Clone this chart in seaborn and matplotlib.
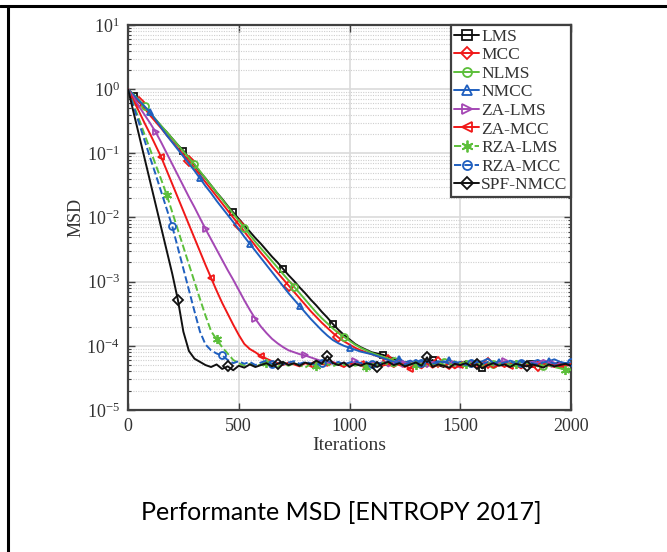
import matplotlib
matplotlib.use("Agg")
import matplotlib.pyplot as plt
from matplotlib.lines import Line2D
from matplotlib.ticker import LogLocator, LogFormatterMathtext, NullFormatter
import numpy as np
import pandas as pd
import seaborn as sns

# Iteration grid (every 25 iterations) and log10(MSD).
iterations = list(range(0, 2001, 25))

lms = [0, -0.10, -0.20, -0.29, -0.39, -0.48, -0.58, -0.67, -0.77, -0.87,
       -0.96, -1.07, -1.18, -1.29, -1.39, -1.50, -1.61, -1.71, -1.82, -1.92,
       -2.02, -2.12, -2.22, -2.32, -2.41, -2.51, -2.61, -2.70, -2.80, -2.90,
       -2.99, -3.09, -3.18, -3.28, -3.37, -3.47, -3.56, -3.66, -3.75, -3.83,
       -3.90, -3.97, -4.02, -4.06, -4.10, -4.12, -4.14, -4.17, -4.20, -4.24,
       -4.26, -4.29, -4.25, -4.31, -4.27, -4.22, -4.30, -4.33, -4.26, -4.28,
       -4.31, -4.24, -4.29, -4.27, -4.35, -4.26, -4.30, -4.25, -4.28, -4.32,
       -4.27, -4.24, -4.30, -4.28, -4.26, -4.33, -4.27, -4.29, -4.25, -4.30, -4.28]

mcc = [0, -0.10, -0.20, -0.30, -0.41, -0.51, -0.61, -0.72, -0.82, -0.92,
       -1.02, -1.12, -1.23, -1.34, -1.45, -1.56, -1.67, -1.78, -1.89, -2.00,
       -2.11, -2.22, -2.33, -2.44, -2.55, -2.65, -2.76, -2.86, -2.96, -3.06,
       -3.16, -3.26, -3.36, -3.46, -3.55, -3.64, -3.72, -3.80, -3.87, -3.93,
       -3.98, -4.03, -4.07, -4.10, -4.13, -4.16, -4.19, -4.22,
       -4.27, -4.30, -4.33, -4.26, -4.29, -4.35, -4.28, -4.31, -4.25, -4.30,
       -4.36, -4.28, -4.32, -4.27, -4.30, -4.34, -4.29, -4.26, -4.31, -4.28,
       -4.33, -4.27, -4.30, -4.35, -4.29, -4.26, -4.31, -4.28, -4.30, -4.33,
       -4.29, -4.31, -4.30]

nlms = [0, -0.08, -0.17, -0.27, -0.37, -0.47, -0.57, -0.67, -0.77, -0.87,
        -0.97, -1.07, -1.17, -1.28, -1.39, -1.50, -1.61, -1.72, -1.83, -1.94,
        -2.05, -2.16, -2.27, -2.38, -2.48, -2.58, -2.68, -2.78, -2.88, -2.98,
        -3.08, -3.18, -3.28, -3.38, -3.48, -3.57, -3.65, -3.73, -3.80, -3.86,
        -3.92, -3.98, -4.03, -4.07, -4.11, -4.14, -4.17, -4.20,
        -4.24, -4.28, -4.25, -4.30, -4.27, -4.23, -4.29, -4.26, -4.31, -4.25,
        -4.28, -4.24, -4.30, -4.27, -4.25, -4.29, -4.32, -4.26, -4.28, -4.24,
        -4.29, -4.27, -4.25, -4.30, -4.28, -4.26, -4.29, -4.31, -4.27, -4.30,
        -4.33, -4.35, -4.37]

nmcc = [0, -0.09, -0.18, -0.27, -0.36, -0.48, -0.60, -0.72, -0.83, -0.94,
        -1.05, -1.16, -1.27, -1.39, -1.51, -1.62, -1.74, -1.85, -1.96, -2.07,
        -2.18, -2.30, -2.41, -2.52, -2.63, -2.74, -2.85, -2.96, -3.07, -3.18,
        -3.28, -3.38, -3.48, -3.58, -3.67, -3.76, -3.84, -3.91, -3.96, -4.00,
        -4.03, -4.06, -4.09, -4.11, -4.13, -4.16, -4.19,
        -4.22, -4.25, -4.20, -4.26, -4.23, -4.28, -4.25, -4.21, -4.27, -4.24,
        -4.26, -4.22, -4.28, -4.25, -4.27, -4.23, -4.26, -4.24, -4.20, -4.27,
        -4.25, -4.28, -4.23, -4.26, -4.24, -4.27, -4.25, -4.22, -4.26, -4.24,
        -4.21, -4.25, -4.27, -4.26]

za_lms = [0, -0.13, -0.27, -0.40, -0.53, -0.67, -0.83, -1.00, -1.17, -1.34,
          -1.51, -1.68, -1.84, -2.01, -2.18, -2.34, -2.50, -2.66, -2.82, -2.97,
          -3.13, -3.29, -3.44, -3.58, -3.70, -3.80, -3.89, -3.96, -4.02, -4.07,
          -4.10, -4.13, -4.15, -4.18, -4.21, -4.24,
          -4.27, -4.25, -4.29, -4.26, -4.31, -4.24, -4.28, -4.30, -4.26, -4.29,
          -4.25, -4.32, -4.27, -4.24, -4.29, -4.26, -4.30, -4.27, -4.33, -4.25,
          -4.28, -4.31, -4.26, -4.29, -4.34, -4.27, -4.25, -4.30, -4.28, -4.26,
          -4.31, -4.27, -4.24, -4.29, -4.26, -4.30, -4.28, -4.25, -4.27, -4.22,
          -4.26, -4.29, -4.27, -4.30, -4.28]

za_mcc = [0, -0.18, -0.35, -0.53, -0.70, -0.88, -1.06, -1.27, -1.48, -1.69,
          -1.90, -2.11, -2.32, -2.53, -2.74, -2.94, -3.14, -3.33, -3.50, -3.67,
          -3.83, -3.97, -4.05, -4.10, -4.16, -4.20, -4.24,
          -4.27, -4.30, -4.26, -4.29, -4.32, -4.27, -4.30, -4.25, -4.28, -4.31,
          -4.26, -4.29, -4.33, -4.27, -4.30, -4.28, -4.35, -4.29, -4.26, -4.31,
          -4.28, -4.33, -4.27, -4.30, -4.36, -4.29, -4.31, -4.27, -4.34, -4.29,
          -4.31, -4.28, -4.35, -4.30, -4.27, -4.32, -4.29, -4.31, -4.28, -4.34,
          -4.30, -4.27, -4.32, -4.29, -4.31, -4.28, -4.33, -4.30, -4.27, -4.31,
          -4.29, -4.32, -4.30, -4.28]

rza_lms = [0, -0.24, -0.47, -0.71, -0.94, -1.18, -1.41, -1.65, -1.92, -2.19,
           -2.46, -2.73, -3.00, -3.27, -3.53, -3.77, -3.90, -4.02, -4.12, -4.22,
           -4.27, -4.31, -4.28, -4.32, -4.29, -4.26, -4.30, -4.33, -4.28, -4.31,
           -4.27, -4.30, -4.34, -4.28, -4.31, -4.26, -4.29, -4.32, -4.28, -4.30,
           -4.27, -4.31, -4.29, -4.33, -4.28, -4.30, -4.26, -4.29, -4.32, -4.28,
           -4.31, -4.27, -4.30, -4.28, -4.32, -4.29, -4.26, -4.30, -4.28, -4.31,
           -4.27, -4.29, -4.32, -4.28, -4.30, -4.27, -4.31, -4.29, -4.26, -4.30,
           -4.28, -4.31, -4.27, -4.29, -4.32, -4.28, -4.30, -4.33, -4.35, -4.37, -4.38]

rza_mcc = [0, -0.27, -0.53, -0.80, -1.07, -1.33, -1.60, -1.87, -2.14, -2.47,
           -2.80, -3.13, -3.46, -3.78, -3.98, -4.07, -4.12, -4.15, -4.22,
           -4.27, -4.24, -4.28, -4.25, -4.30, -4.26, -4.23, -4.28, -4.25, -4.29,
           -4.26, -4.24, -4.28, -4.25, -4.27, -4.30, -4.26, -4.23, -4.28, -4.25,
           -4.29, -4.26, -4.24, -4.27, -4.25, -4.29, -4.26, -4.28, -4.24, -4.27,
           -4.25, -4.29, -4.26, -4.22, -4.27, -4.25, -4.28, -4.26, -4.24, -4.28,
           -4.25, -4.27, -4.30, -4.26, -4.24, -4.28, -4.25, -4.27, -4.29, -4.26,
           -4.24, -4.28, -4.26, -4.25, -4.27, -4.29, -4.26, -4.24, -4.28, -4.26, -4.27, -4.25]

spf_nmcc = [0, -0.36, -0.72, -1.08, -1.44, -1.80, -2.16, -2.52, -2.88, -3.28,
            -3.78, -4.08, -4.20, -4.25,
            -4.30, -4.33, -4.29, -4.36, -4.32, -4.38, -4.31, -4.34, -4.29, -4.33,
            -4.30, -4.27, -4.32, -4.28, -4.25, -4.30, -4.27, -4.31, -4.26, -4.29,
            -4.23, -4.28, -4.16, -4.27, -4.30, -4.26, -4.33, -4.28, -4.31, -4.27,
            -4.29, -4.33, -4.28, -4.25, -4.30, -4.27, -4.32, -4.29, -4.26, -4.31,
            -4.18, -4.33, -4.29, -4.31, -4.34, -4.28, -4.30, -4.27, -4.32, -4.29,
            -4.35, -4.30, -4.27, -4.31, -4.29, -4.33, -4.28, -4.30, -4.32, -4.29,
            -4.31, -4.34, -4.29, -4.32, -4.30, -4.28, -4.31]

series_names = ['LMS', 'MCC', 'NLMS', 'NMCC', 'ZA-LMS', 'ZA-MCC',
                'RZA-LMS', 'RZA-MCC', 'SPF-NMCC']
series_values = [lms, mcc, nlms, nmcc, za_lms, za_mcc, rza_lms, rza_mcc, spf_nmcc]

# styling per series
colors = ['#111111', '#f01818', '#5cbf3a', '#1f5fbf', '#a447b4', '#f01818',
          '#5cbf3a', '#1f5fbf', '#111111']
markers = ['s', 'D', 'o', '^', '>', '<', (6, 2, 0), 'o', 'D']
styles = ['-', '-', '-', '-', '-', '-', '--', '--', '-']

sns.set_style("ticks", {'axes.grid': False, 'axes.edgecolor': '#404040'})
plt.rcParams['font.family'] = ['Liberation Serif', 'DejaVu Serif']
plt.rcParams['mathtext.fontset'] = 'stix'

fig = plt.figure(figsize=(6.67, 5.52), dpi=100)
ax = fig.add_axes([128 / 667, 1 - 410 / 552, (571 - 128) / 667, (410 - 25) / 552])

for k, (name, vals) in enumerate(zip(series_names, series_values)):
    df = pd.DataFrame({'Iterations': iterations, 'MSD': 10.0 ** np.array(vals)})
    mk = list(range(k + 1, len(iterations), 9))
    sns.lineplot(data=df, x='Iterations', y='MSD', ax=ax, color=colors[k],
                 linestyle=styles[k], linewidth=1.4, marker=markers[k],
                 markersize=5 if k != 6 else 6.5, markevery=mk,
                 markerfacecolor='none', markeredgecolor=colors[k],
                 markeredgewidth=1.3, label=name, zorder=3)

ax.set_yscale('log')
ax.set_xlim(0, 2000)
ax.set_ylim(1e-5, 1e1)
ax.set_xticks([0, 500, 1000, 1500, 2000])
ax.yaxis.set_major_locator(LogLocator(base=10, numticks=20))
ax.yaxis.set_minor_locator(LogLocator(base=10, subs=np.arange(2, 10), numticks=100))
ax.yaxis.set_major_formatter(LogFormatterMathtext())
ax.yaxis.set_minor_formatter(NullFormatter())

ax.grid(which='major', color='#dadada', linewidth=1.2, linestyle='-', zorder=0)
ax.grid(which='minor', axis='y', color='#cfcfcf', linewidth=0.8, linestyle=(0, (1, 1.2)), zorder=0)
ax.set_axisbelow(True)

for sp in ax.spines.values():
    sp.set_linewidth(1.6)
    sp.set_color('#404040')
    sp.set_visible(True)

ax.tick_params(which='both', direction='in', top=True, right=True,
               colors='#404040', labelcolor='#333333', labelsize=13)
ax.tick_params(which='major', length=5, width=1.0, pad=6)
ax.tick_params(which='minor', length=2.5, width=0.8)

ax.set_xlabel('Iterations', fontsize=14, color='#333333', labelpad=1)
ax.set_ylabel('MSD', fontsize=13, color='#333333', labelpad=1)

leg = ax.legend(loc='upper right', borderaxespad=0, fontsize=12.5, frameon=True,
                fancybox=False, framealpha=1, edgecolor='#404040',
                handlelength=1.45, handletextpad=0.1, labelspacing=0.14,
                borderpad=0.2, markerscale=1.3)
leg.get_frame().set_linewidth(1.6)
leg.set_zorder(5)
for txt in leg.get_texts():
    txt.set_color('#333333')

# surrounding cell border and caption
fig.add_artist(Line2D([0, 1], [1 - 5.5 / 552, 1 - 5.5 / 552], color='black', linewidth=2.2,
                      transform=fig.transFigure))
fig.add_artist(Line2D([7.5 / 667, 7.5 / 667], [0, 1 - 5.5 / 552], color='black', linewidth=2.2,
                      transform=fig.transFigure))
fig.text(341 / 667, 1 - 513 / 552, 'Performante MSD [ENTROPY 2017]', family=['Lato', 'DejaVu Sans'],
         fontsize=18, ha='center', va='center', color='black')

fig.savefig('out.png', dpi=100)
